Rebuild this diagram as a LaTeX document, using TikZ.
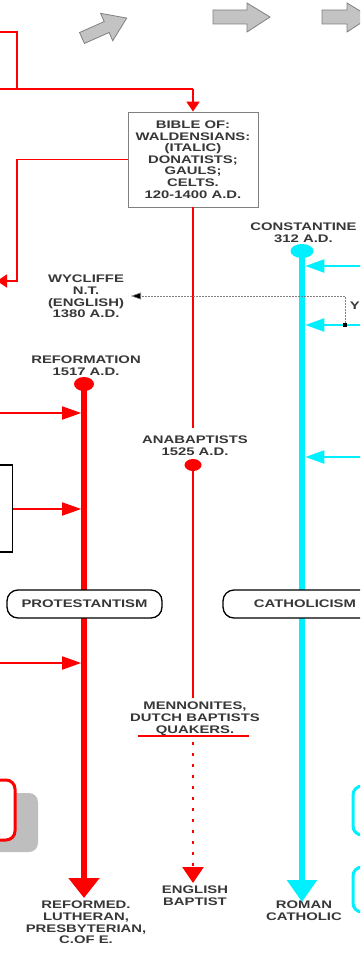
\documentclass[tikz,border=0pt]{standalone}
\usepackage{fontspec}
\newfontfamily\rotulo{Liberation Sans}[FakeStretch=1.35]
\usetikzlibrary{arrows.meta,positioning,shapes.geometric}
\definecolor{grisTexto}{RGB}{55,55,55}
\definecolor{grisFlecha}{RGB}{195,195,195}
\definecolor{grisSombra}{RGB}{190,190,190}
\definecolor{cian}{RGB}{0,240,255}
\definecolor{rojo}{RGB}{255,0,0}
\tikzset{
  etiqueta/.style={font=\rotulo\bfseries\fontsize{11}{11.6}\selectfont, text=grisTexto, align=center, inner sep=0pt, anchor=north},
  rojoFino/.style={rojo, line width=1.8pt},
  rojoGrueso/.style={rojo, line width=5.5pt},
  cianFino/.style={cian, line width=2.2pt},
  cianGrueso/.style={cian, line width=6.5pt},
  puntaFina/.style={-{Triangle[length=19pt,width=13pt]}},
  puntaChica/.style={-{Triangle[length=10pt,width=13pt]}},
  puntaGrande/.style={-{Triangle[length=20pt,width=30pt]}},
  capsula/.style={etiqueta, anchor=center, draw=black, line width=1.3pt, fill=white, rounded corners=11pt, minimum height=28pt},
  flechaGris/.style={fill=grisFlecha, draw=gray, line width=0.8pt}
}
\begin{document}
\begin{tikzpicture}[x=1pt, y=-1pt]
        \useasboundingbox (0,0) rectangle (360,955);
        \clip (0,0) rectangle (360,955);
        %%%%%%%%%%%%%%%%%%%%%%%% Flechas grises %%%%%%%%%%%%%%%%%%%%%%%%%%%%%%%%%%
        \begin{scope}[shift={(82,38)}, rotate=24]
          \filldraw[flechaGris] (0,-6) -- (27,-6) -- (27,-15) -- (49,0) -- (27,15) -- (27,6) -- (0,6) -- cycle;
        \end{scope}
        \filldraw[flechaGris] (213,10) -- (247,10) -- (247,3) -- (270,17) -- (247,32) -- (247,24) -- (213,24) -- cycle;
        \filldraw[flechaGris] (322,10) -- (347,10) -- (347,3) -- (370,17) -- (347,32) -- (347,24) -- (322,24) -- cycle;
        %%%%%%%%%%%%%%%%%%%%%%%% Cajas y etiquetas %%%%%%%%%%%%%%%%%%%%%%%%%%%%%%%
        \node[etiqueta, anchor=center, draw=gray, line width=0.8pt, fill=white, minimum width=130pt, minimum height=95pt] (biblia) at (193,159.5) {BIBLE OF:\\WALDENSIANS:\\(ITALIC)\\DONATISTS;\\GAULS;\\CELTS.\\120-1400 A.D.};
        \node[etiqueta] (constantino) at (303.5,223) {CONSTANTINE\\312 A.D.};
        \node[etiqueta] (wycliffe) at (86,275) {WYCLIFFE\\N.T.\\(ENGLISH)\\1380 A.D.};
        \node[etiqueta, anchor=north east] (letraY) at (360,302) {Y};
        \node[etiqueta] (reforma) at (86,356) {REFORMATION\\1517 A.D.};
        \node[etiqueta] (anabaptistas) at (195,436) {ANABAPTISTS\\1525 A.D.};
        \node[etiqueta] (menonitas) at (195,702) {MENNONITES,\\DUTCH BAPTISTS\\QUAKERS.};
        \node[etiqueta] (ingles) at (195,886) {ENGLISH\\BAPTIST};
        \node[etiqueta] (reformados) at (86,901) {REFORMED.\\LUTHERAN,\\PRESBYTERIAN,\\C.OF E.};
        \node[etiqueta] (romana) at (304,901) {ROMAN\\CATHOLIC};
        \node[draw=black, line width=1.2pt, minimum width=39pt, minimum height=87pt] (cajaIzq) at (-7,508.5) {};
        \node[fill=grisSombra, rounded corners=9pt, minimum width=75pt, minimum height=59pt] (sombra) at (0.5,822.5) {};
        \node[draw=rojo, line width=3pt, fill=white, rounded corners=9pt, minimum width=75pt, minimum height=60pt] (cajaRoja) at (-22.5,810) {};
        \node[draw=cian, line width=3pt, rounded corners=9pt, minimum width=67pt, minimum height=49pt] (cajaCian) at (386.5,810.5) {};
        \node[draw=cian, line width=3pt, rounded corners=9pt, minimum width=67pt, minimum height=45pt] (cajaCianB) at (386.5,889.5) {};
        %%%%%%%%%%%%%%%%%%%%%%%% Puntos %%%%%%%%%%%%%%%%%%%%%%%%%%%%%%%%%%%%%%%%%%
        \node[ellipse, fill=rojo, inner sep=0pt, minimum width=20pt, minimum height=14pt] (puntoReforma) at (84,384) {};
        \node[ellipse, fill=rojo, inner sep=0pt, minimum width=17pt, minimum height=12pt] (puntoAna) at (193,465) {};
        \node[ellipse, fill=cian, inner sep=0pt, minimum width=23pt, minimum height=14pt] (puntoConst) at (302,251) {};
        \node[fill=black, inner sep=0pt, minimum size=4pt] (cuadro) at (345,325) {};
        %%%%%%%%%%%%%%%%%%%%%%%% Coordenadas libres %%%%%%%%%%%%%%%%%%%%%%%%%%%%%%
        \coordinate (arribaIzq) at (0,32);
        \coordinate (codo) at (17,32);
        \coordinate (ramaIzq) at (0,89);
        \coordinate (ramaBiblia) at (193,89);
        \coordinate (bajaIzq) at (17,281);
        \coordinate (salidaIzq) at (-3,281);
        \coordinate (finBiblia) at (193,428);
        \coordinate (finAna) at (193,698);
        \coordinate (barraIzq) at (138,736);
        \coordinate (barraDer) at (249,736);
        \coordinate (barraCentro) at (193,736);
        \coordinate (finIngles) at (193,883);
        \coordinate (finReforma) at (84,898);
        \coordinate (finRomana) at (302,902);
        \coordinate (esquina) at (345,296);
        \coordinate (puntaWyc) at (131,296);
        %%%%%%%%%%%%%%%%%%%%%%%% Lineas rojas %%%%%%%%%%%%%%%%%%%%%%%%%%%%%%%%%%%%
        \draw[rojoFino] (arribaIzq) -- (codo) -- (codo |- ramaIzq); %Codo superior
        \draw[rojoFino] (ramaIzq) -- (ramaBiblia);
        \draw[rojoFino, puntaChica] (ramaBiblia) -- (biblia.north);
        \draw[rojoFino, puntaChica] (biblia.west) -- (biblia.west -| codo) -- (bajaIzq) -- (salidaIzq);
        \draw[rojoFino] (biblia.south) -- (finBiblia);
        \draw[rojoFino] (puntoAna.center) -- (finAna);
        \draw[rojoFino] (barraIzq) -- (barraDer);
        \draw[rojo, line width=2.5pt, dash pattern=on 2.5pt off 8.5pt, -{Triangle[length=16pt,width=21pt]}] ([yshift=-6pt]barraCentro) -- (finIngles); %Linea punteada
        \draw[rojoGrueso, puntaGrande] (puntoReforma.center) -- (finReforma);
        \draw[rojoFino, puntaFina] (0,413) -- (81.2,413);
        \draw[rojoFino, puntaFina] (cajaIzq.east |- 0,509) -- (81.2,509);
        \draw[rojoFino, puntaFina] (0,663) -- (81.2,663);
        %%%%%%%%%%%%%%%%%%%%%%%% Lineas cian %%%%%%%%%%%%%%%%%%%%%%%%%%%%%%%%%%%%%
        \draw[cianGrueso, -{Triangle[length=22pt,width=29pt]}] (puntoConst.center) -- (finRomana);
        \draw[cianFino, puntaFina] (362,266) -- (305.3,266);
        \draw[cianFino, puntaFina] (362,325) -- (305.3,325);
        \draw[cianFino, puntaFina] (362,457) -- (305.3,457);
        %%%%%%%%%%%%%%%%%%%%%%%% Wycliffe %%%%%%%%%%%%%%%%%%%%%%%%%%%%%%%%%%%%%%%%
        \draw[gray, line width=0.6pt, dash pattern=on 2pt off 1pt, -{Triangle[length=10pt,width=7pt,fill=black]}] (cuadro) -- (esquina) -- (puntaWyc);
        \node[fill=black, inner sep=0pt, minimum size=4pt] at (cuadro) {};
        %%%%%%%%%%%%%%%%%%%%%%%% Capsulas %%%%%%%%%%%%%%%%%%%%%%%%%%%%%%%%%%%%%%%%
        \node[capsula, minimum width=155pt] (protestantismo) at (84.5,604) {PROTESTANTISM};
        \node[capsula, minimum width=164pt] (catolicismo) at (305,604) {CATHOLICISM};
      \end{tikzpicture}
\end{document}
